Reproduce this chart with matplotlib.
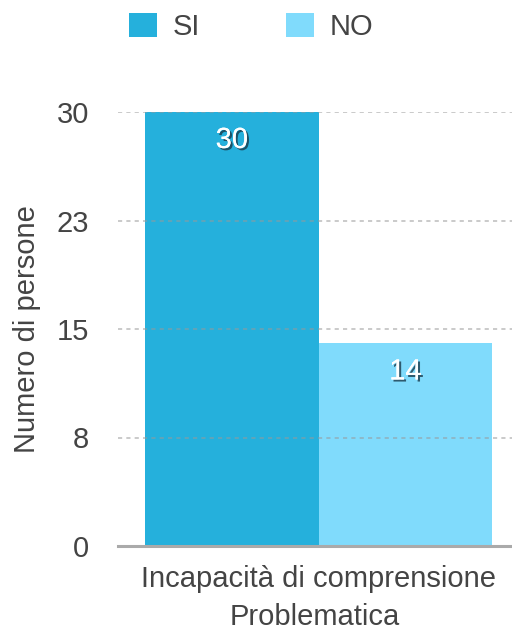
import matplotlib.pyplot as plt
import matplotlib.patheffects as pe
from matplotlib.patches import Patch

plt.rcParams['font.family'] = ['Liberation Sans', 'DejaVu Sans']

# dati
categoria = 'Incapacità di comprensione'
serie = ['SI', 'NO']
valori = [30, 14]
colori = ['#25B0DC', '#80DBFC']
yticks = [0, 7.5, 15, 22.5, 30]
ytick_labels = ['0', '8', '15', '23', '30']

fs = 21
fig = plt.figure(figsize=(5.12, 6.33), dpi=100)
ax = fig.add_axes([118 / 512, 1 - 546 / 633, 394 / 512, 434 / 633])

pos = [-0.5, 0.5]
bars = ax.bar(pos, valori, width=1.0, color=colori, zorder=2)

ax.set_xlim(-1.156, 1.115)
ax.set_ylim(0, 30)

# griglia tratteggiata
for y in yticks[1:]:
    ax.axhline(y, color='#999999', lw=1.2, ls=(0, (2.5, 2.5)), alpha=0.6, zorder=3)
ax.axhline(0, color='#aaaaaa', lw=2.2, zorder=4, clip_on=False)

for s in ax.spines.values():
    s.set_visible(False)

ax.set_yticks(yticks)
ax.set_yticklabels(ytick_labels)
ax.tick_params(axis='y', length=0, pad=21, labelsize=fs, labelcolor='#444444')
ax.set_xticks([0])
ax.set_xticklabels([categoria])
ax.tick_params(axis='x', length=0, pad=14, labelsize=fs, labelcolor='#444444')
ax.set_xlabel('Problematica', fontsize=fs, color='#444444', labelpad=7)
ax.set_ylabel('Numero di persone', fontsize=fs, color='#444444', labelpad=11)

# etichette sui bar
for b, v in zip(bars, valori):
    ax.annotate(str(v), (b.get_x() + b.get_width() / 2, v),
                xytext=(0, -28), textcoords='offset pixels',
                ha='center', va='center', fontsize=21, color='white',
                zorder=5,
                path_effects=[pe.withSimplePatchShadow(offset=(1.5, -1.5), shadow_rgbFace='#1a3a4a', alpha=0.8),
                              pe.Normal()])

handles = [Patch(facecolor=c) for c in colori]
fig.legend(handles, serie, loc='upper left', bbox_to_anchor=(129 / 512, 1 - 13 / 633),
           ncol=2, frameon=False, fontsize=fs, labelcolor='#444444',
           handlelength=0.95, handleheight=0.85, handletextpad=0.55,
           columnspacing=2.95, borderpad=0, borderaxespad=0)

fig.savefig('out.png', dpi=100)
